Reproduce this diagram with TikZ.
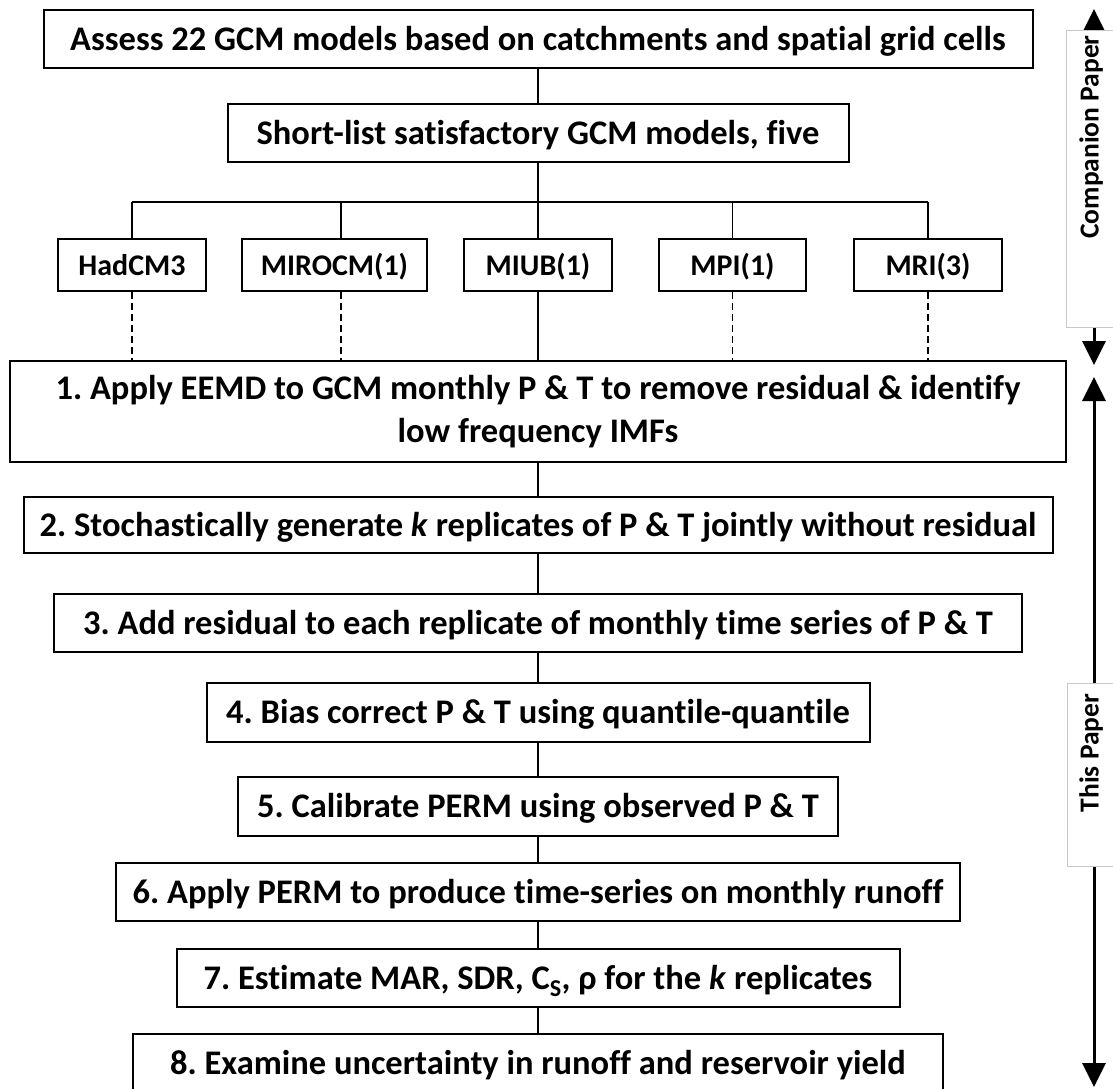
\documentclass[tikz,border=0pt]{standalone}
\usepackage{fontspec}
\setmainfont{Carlito}[Ligatures=NoCommon]
\usetikzlibrary{arrows.meta}
\definecolor{lblgray}{HTML}{C8C8C8}
\frenchspacing
\begin{document}
\begin{tikzpicture}[x=1pt,y=-1pt,
  stepbox/.style={draw,line width=2pt,inner sep=0pt,align=center,
    text height=28pt,text depth=6pt,
    font=\bfseries\fontsize{34.5}{43}\selectfont},
  modelbox/.style={draw,line width=2pt,inner sep=0pt,minimum height=52pt,
    text height=24pt,text depth=4pt,
    font=\bfseries\fontsize{30}{36}\selectfont},
  conn/.style={line width=1.3pt},
  dconn/.style={line width=1.4pt,dash pattern=on 7pt off 4pt},
  bigarrow/.style={line width=3pt,{Triangle[width=23pt,length=24pt]}-{Triangle[width=23pt,length=24pt]}},
  lbl/.style={draw=lblgray,line width=1pt,fill=white},
  lbltext/.style={rotate=90,font=\bfseries\fontsize{27.5}{33}\selectfont}]
\useasboundingbox (0,0) rectangle (1113,1088);

% top boxes
\node[stepbox,minimum width=989pt,minimum height=58pt] (a) at (538,39)
  {Assess 22 GCM models based on catchments and spatial grid cells};
\node[stepbox,minimum width=621pt,minimum height=58pt] (b) at (538,133)
  {Short-list satisfactory GCM models, five};

% models
\node[modelbox,minimum width=148pt] (had) at (132,265) {HadCM3};
\node[modelbox,minimum width=185pt] (mir) at (334.5,265) {MIROCM(1)};
\node[modelbox,minimum width=148pt] (miub) at (538,265) {MIUB(1)};
\node[modelbox,minimum width=147pt] (mpi) at (732.5,265) {MPI(1)};
\node[modelbox,minimum width=148pt] (mri) at (928,265) {MRI(3)};

% steps
\node[stepbox,text height={},text depth={},minimum width=1056pt,minimum height=101pt] (s1) at (538,411.5)
  {1. Apply EEMD to GCM monthly P \& T to remove residual \& identify\\low frequency IMFs};
\node[stepbox,minimum width=1029pt,minimum height=56pt] (s2) at (538,525)
  {2. Stochastically generate \textit{k} replicates of P \& T jointly without residual};
\node[stepbox,minimum width=968pt,minimum height=58pt] (s3) at (538,623)
  {3. Add residual to each replicate of monthly time series of P \& T};
\node[stepbox,minimum width=663pt,minimum height=59pt] (s4) at (538,712.5)
  {4. Bias correct P \& T using quantile-quantile};
\node[stepbox,minimum width=600pt,minimum height=59pt] (s5) at (538,806.5)
  {5. Calibrate PERM using observed P \& T};
\node[stepbox,minimum width=844pt,minimum height=58pt] (s6) at (538,892)
  {6. Apply PERM to produce time-series on monthly runoff};
\node[stepbox,minimum width=723pt,minimum height=58pt] (s7) at (538,978)
  {7. Estimate MAR, SDR, C\textsubscript{S}, ρ for the \textit{k} replicates};
\node[stepbox,minimum width=810pt,minimum height=58pt] (s8) at (538,1063)
  {8. Examine uncertainty in runoff and reservoir yield};

% connectors
\coordinate (hb) at (538,202);
\coordinate (h1) at (132,202);
\coordinate (h2) at (341,202);
\coordinate (h4) at (732.5,202);
\coordinate (h5) at (928,202);
\draw[conn] (a.south) -- (b.north);
\draw[conn] (b.south) -- (hb);
\draw[conn] (h1) -- (h5);
\draw[conn] (h1) -- (had.north);
\draw[conn] (h2) -- (h2 |- mir.north);
\draw[conn] (hb) -- (miub.north);
\draw[conn] (h4) -- (mpi.north);
\draw[conn] (h5) -- (mri.north);
\draw[dconn] (had.south) -- (had.south |- s1.north);
\draw[dconn] (h2 |- mir.south) -- (h2 |- s1.north);
\draw[conn] (miub.south) -- (s1.north);
\draw[dconn] (mpi.south) -- (mpi.south |- s1.north);
\draw[dconn] (mri.south) -- (mri.south |- s1.north);
\draw[conn] (s1.south) -- (s2.north);
\draw[conn] (s2.south) -- (s3.north);
\draw[conn] (s3.south) -- (s4.north);
\draw[conn] (s4.south) -- (s5.north);
\draw[conn] (s5.south) -- (s6.north);
\draw[conn] (s6.south) -- (s7.north);
\draw[conn] (s7.south) -- (s8.north);

% right side arrows and labels
\coordinate (c1) at (1094,9);
\coordinate (c2) at (1094,365);
\coordinate (t1) at (1094,377);
\coordinate (t2) at (1094,1087);
\draw[bigarrow] (c1) -- (c2);
\draw[bigarrow] (t1) -- (t2);
\draw[lbl] (1066,30) rectangle (1125,327);
\node[lbltext] (cp) at (1091,137) {Companion Paper};
\draw[lbl] (1067,683) rectangle (1125,866);
\node[lbltext] (tp) at (1091,753) {This Paper};
\end{tikzpicture}
\end{document}
